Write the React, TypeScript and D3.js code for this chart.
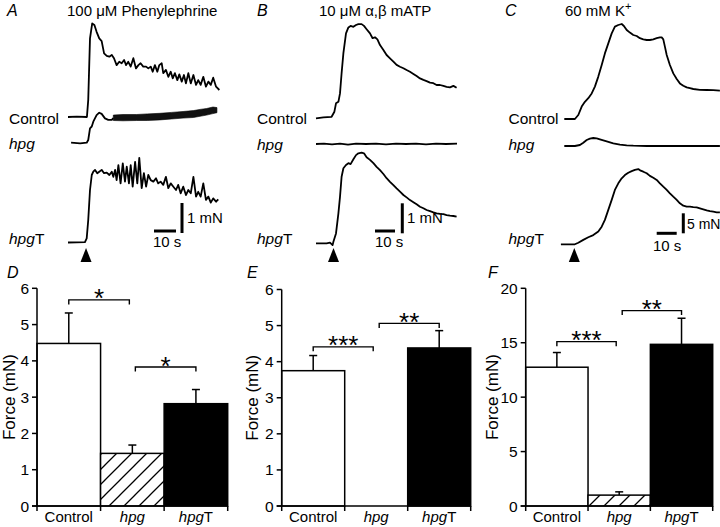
import React from "react";
import * as d3 from "d3";

const FONT = "'Liberation Sans', Arial, Helvetica, sans-serif";

type Pt = [number, number];

// ---------- Trace data: [time (s), force (mN above baseline)] ----------
// A: 100 µM Phenylephrine
const PE_CONTROL: Pt[] = [
  [0, 0], [4, 0.01], [8.6, 0], [9.2, 0.57], [10.0, 2.62], [11.0, 3.12], [12.0, 3.07], [13.0, 2.84],
  [14.2, 2.62], [15.3, 2.53], [16.4, 2.12], [17.6, 2.04], [18.8, 2.01], [19.9, 2.07], [20.9, 1.96],
  [22.1, 1.73], [23.3, 1.84], [24.4, 1.79], [25.5, 1.9], [26.4, 1.73], [27.4, 1.84], [28.5, 1.68],
  [29.7, 1.96], [30.9, 1.62], [32.0, 1.73], [33.0, 1.79], [34.2, 1.68], [35.5, 1.68], [36.5, 1.62],
  [37.6, 1.68], [38.5, 1.51], [39.5, 1.73], [40.6, 1.51], [41.5, 1.73], [42.6, 1.79], [43.3, 1.46],
  [44.5, 1.57], [45.6, 1.34], [46.7, 1.51], [47.6, 1.29], [48.6, 1.46], [49.7, 1.23], [50.6, 1.42],
  [51.7, 1.18], [52.7, 1.4], [53.6, 1.12], [54.7, 1.46], [55.8, 1.12], [57.0, 1.4], [58.2, 1.07],
  [59.2, 1.23], [60.3, 1.07], [61.5, 1.34], [62.7, 1.01], [63.8, 1.18], [64.9, 1.07], [66.0, 1.31],
  [67.3, 1.01], [68.8, 0.9],
];
const PE_HPG: Pt[] = [
  [1.4, 0.01], [5.5, -0.01], [8.5, 0.01], [9.2, 0.1], [10.0, 0.49], [10.8, 0.55], [11.5, 0.71],
  [13.0, 0.93], [14.2, 1.01], [15.3, 0.97], [16.8, 0.82], [18.3, 0.77], [19.9, 0.77], [20.6, 0.83],
];
// noisy part of hpg trace: [time, lower envelope, upper envelope]
const PE_HPG_BAND: [number, number, number][] = [
  [20.6, 0.75, 0.93], [25.0, 0.74, 0.95], [31.2, 0.75, 0.95], [36.0, 0.75, 0.97], [41.8, 0.77, 0.99],
  [47.0, 0.8, 1.02], [52.3, 0.83, 1.05], [57.0, 0.85, 1.08], [60.0, 0.89, 1.12], [63.0, 0.93, 1.15],
  [65.9, 0.98, 1.2], [67.7, 1.01, 1.18],
];
const PE_HPGT: Pt[] = [
  [0, 0], [7.7, 0.01], [8.5, 0.14], [9.2, 0.75], [10.0, 1.75], [10.8, 2.25], [11.5, 2.36], [12.3, 2.42],
  [13.3, 2.31], [14.2, 2.36], [15.3, 2.42], [16.4, 2.31], [17.6, 2.33], [18.8, 2.25], [19.9, 2.36],
  [20.6, 2.19], [21.4, 2.42], [22.1, 2.08], [22.9, 2.58], [23.9, 1.97], [24.9, 2.64], [25.9, 2.03],
  [26.7, 2.53], [27.7, 1.97], [28.5, 2.58], [29.4, 1.86], [30.5, 2.69], [31.5, 1.97], [32.4, 2.82],
  [33.5, 1.81], [34.5, 2.31], [35.5, 1.86], [36.5, 2.25], [37.6, 2.08], [38.8, 2.03], [40.0, 2.14],
  [41.0, 1.97], [42.1, 2.03], [43.3, 1.92], [44.5, 2.19], [45.6, 1.81], [46.7, 1.97], [47.9, 1.86],
  [49.1, 1.75], [50.1, 1.92], [51.2, 1.64], [52.4, 1.86], [53.6, 1.58], [54.7, 1.75], [55.8, 1.64],
  [57.0, 2.19], [58.2, 1.53], [59.2, 1.69], [60.3, 1.53], [61.5, 1.97], [62.7, 1.42], [63.8, 1.53],
  [64.9, 1.33], [66.0, 1.47], [67.3, 1.36], [68.3, 1.44],
];

// B: 10 µM α,β mATP
const ATP_CONTROL: Pt[] = [
  [0, 0], [3.7, 0.03], [7.8, 0.05], [9.2, 0.22], [10.0, 0.5], [11.2, 0.55], [12.0, 0.83], [12.8, 1.5],
  [13.7, 2.17], [15.0, 2.83], [16.2, 3.03], [17.3, 3.08], [18.7, 3.05], [20.0, 3.11], [21.2, 3.14],
  [22.8, 3.14], [24.0, 3.08], [25.3, 2.97], [27.0, 2.83], [28.3, 2.67], [29.5, 2.7], [30.7, 2.63],
  [32.0, 2.44], [33.7, 2.28], [35.3, 2.11], [37.0, 2.0], [38.7, 1.89], [40.3, 1.78], [42.0, 1.72],
  [43.7, 1.67], [45.3, 1.61], [47.0, 1.55], [48.7, 1.48], [50.3, 1.41], [52.0, 1.33], [53.7, 1.28],
  [55.3, 1.24], [57.0, 1.19], [58.7, 1.17], [60.3, 1.11], [62.0, 1.11], [63.7, 1.08], [65.3, 1.05],
  [67.0, 1.03], [68.7, 1.08], [70.3, 1.02],
];
const ATP_HPG: Pt[] = [
  [0, 0], [4, 0.01], [8, -0.01], [12, 0.01], [16, -0.02], [20, 0.01], [25, 0], [30, 0.01], [35, -0.01],
  [40, 0.01], [45, 0], [50, 0.01], [55, -0.01], [60, 0.01], [65, 0], [70.5, 0.01],
];
const ATP_HPGT: Pt[] = [
  [0, 0], [5.3, 0], [7.0, 0.02], [8.3, -0.06], [8.7, 0.05], [10.0, 0.33], [11.2, 1.0], [12.0, 1.55],
  [12.8, 2.22], [13.7, 2.5], [15.0, 2.61], [16.2, 2.67], [17.3, 2.64], [18.7, 2.8], [20.0, 2.94],
  [21.2, 3.0], [22.8, 3.02], [24.0, 3.0], [25.3, 2.87], [27.0, 2.78], [28.7, 2.67], [30.3, 2.55],
  [32.0, 2.44], [33.7, 2.31], [35.3, 2.17], [37.0, 2.05], [38.7, 1.94], [40.3, 1.83], [42.0, 1.72],
  [43.7, 1.61], [45.3, 1.53], [47.0, 1.44], [48.7, 1.37], [50.3, 1.3], [52.0, 1.22], [53.7, 1.17],
  [55.3, 1.11], [57.0, 1.07], [58.7, 1.03], [60.3, 1.0], [62.0, 0.98], [63.7, 0.97], [65.3, 0.94],
  [67.0, 0.92], [68.7, 0.91], [70.3, 0.89],
];

// C: 60 mM K+
const K_CONTROL: Pt[] = [
  [0, 0], [5.3, 0], [7.0, 1.0], [8.7, 3.1], [10.3, 4.3], [12.0, 5.2], [13.7, 6.4], [15.3, 8.1],
  [17.0, 10.6], [18.7, 13.5], [20.3, 16.4], [22.0, 18.9], [23.7, 21.4], [25.3, 23.1], [27.0, 23.5],
  [28.7, 23.75], [29.8, 23.25], [31.2, 22.25], [32.8, 21.6], [34.5, 21.0], [36.2, 20.75], [37.8, 20.2],
  [39.5, 19.9], [41.2, 19.75], [42.8, 19.75], [44.5, 19.9], [46.2, 20.2], [47.8, 20.4], [48.7, 20.4],
  [49.5, 19.9], [50.3, 18.1], [51.2, 16.0], [52.8, 13.5], [54.5, 11.4], [56.2, 10.0], [57.8, 8.9],
  [59.5, 8.3], [61.2, 7.9], [62.8, 7.7], [64.5, 7.5], [67.8, 7.3], [71.2, 7.25], [74.5, 7.2], [77.8, 7.1],
];
const K_HPG: Pt[] = [
  [0, 0], [5.3, 0], [7.8, 0.25], [9.5, 0.83], [11.2, 1.5], [12.8, 1.83], [14.5, 2.0], [16.2, 1.92],
  [17.8, 1.67], [21.2, 1.17], [24.5, 0.67], [27.8, 0.33], [31.2, 0.17], [34.5, 0.08], [41.2, 0],
  [49.5, 0], [57.8, 0], [67.8, 0], [77.8, 0],
];
const K_HPGT: Pt[] = [
  [-1.7, 0], [5.3, 0], [7.0, 0.4], [9.5, 1.1], [12.0, 1.75], [14.5, 2.3], [17.0, 3.2], [18.7, 4.4],
  [20.3, 6.1], [22.0, 8.6], [23.7, 11.1], [25.3, 13.6], [27.0, 15.25], [28.7, 16.5], [30.3, 17.3],
  [32.0, 17.9], [33.7, 18.3], [35.3, 18.6], [37.0, 18.8], [38.2, 18.4], [39.5, 18.15], [41.2, 17.75],
  [42.8, 17.1], [44.5, 16.65], [46.2, 16.1], [47.8, 15.25], [49.5, 14.4], [51.2, 13.6], [52.8, 12.75],
  [54.5, 11.9], [56.2, 11.1], [57.8, 10.25], [59.5, 9.65], [61.2, 9.4], [62.8, 9.4], [64.5, 9.3],
  [66.2, 9.25], [67.8, 9.0], [69.5, 8.75], [71.2, 8.5], [72.8, 8.3], [74.5, 8.15], [76.2, 8.0], [77.8, 8.0],
];

// ---------- Bar data ----------
const CATEGORIES = ["Control", "hpg", "hpgT"];
const PE_MEAN = [4.48, 1.45, 2.82];
const PE_SEM = [0.84, 0.23, 0.39];
const ATP_MEAN = [3.75, 0, 4.38];
const ATP_SEM = [0.42, 0, 0.48];
const K_MEAN = [12.75, 1.0, 14.85];
const K_SEM = [1.35, 0.3, 2.4];
const TICKS_6 = [0, 1, 2, 3, 4, 5, 6];
const TICKS_20 = [0, 5, 10, 15, 20];
// significance: [from category, to category, height (mN), label]
const PE_SIG: [number, number, number, string][] = [[0, 1, 5.68, "*"], [1, 2, 3.83, "*"]];
const ATP_SIG: [number, number, number, string][] = [[0, 1, 4.41, "***"], [1, 2, 5.06, "**"]];
const K_SIG: [number, number, number, string][] = [[0, 1, 15.1, "***"], [1, 2, 17.95, "**"]];

const lineGen = d3.line<Pt>();

function CatLabel({ name, x, y, anchor = "start", size = 15 }: { name: string; x: number; y: number; anchor?: string; size?: number }) {
  if (name === "Control")
    return <text x={x} y={y} textAnchor={anchor} fontSize={size}>Control</text>;
  if (name === "hpg")
    return <text x={x} y={y} textAnchor={anchor} fontSize={size} fontStyle="italic">hpg</text>;
  return (
    <text x={x} y={y} textAnchor={anchor} fontSize={size}>
      <tspan fontStyle="italic">hpg</tspan>T
    </text>
  );
}

interface TraceDef { data: Pt[]; base: number; }

function TracePanel(props: {
  x0: number; pxPerS: number; pxPerMN: number; traces: TraceDef[];
  band?: { data: [number, number, number][]; base: number };
  labelX: number; labels: [string, number][];
  letter: string; letterX: number; title: React.ReactNode; titleX: number;
  arrowT: number; sbH: [number, number]; sbV: [number, number]; sbMN: number;
  mnLabel: string; mnLabelPos: [number, number]; mnSize?: number; sLabelPos: [number, number];
}) {
  const x = d3.scaleLinear().domain([0, 10]).range([props.x0, props.x0 + 10 * props.pxPerS]);
  const mk = (base: number) => d3.scaleLinear().domain([0, 1]).range([base, base - props.pxPerMN]);
  const ax = x(props.arrowT);
  const hLen = x(10) - x(0);
  const vLen = mk(0)(0) - mk(0)(props.sbMN);
  return (
    <g>
      <text x={props.letterX} y={16} fontSize={16} fontStyle="italic">{props.letter}</text>
      <text x={props.titleX} y={16} fontSize={15}>{props.title}</text>
      {props.traces.map((tr, i) => {
        const y = mk(tr.base);
        const d = lineGen.x((p) => x(p[0])).y((p) => y(p[1]))(tr.data) || "";
        return <path key={i} d={d} fill="none" stroke="#000" strokeWidth={1.8} strokeLinejoin="round" />;
      })}
      {props.band && (() => {
        const y = mk(props.band.base);
        const area = d3.area<[number, number, number]>()
          .x((p) => x(p[0])).y0((p) => y(p[1])).y1((p) => y(p[2]));
        return <path d={area(props.band.data) || ""} fill="#111" stroke="#000" strokeWidth={0.6} />;
      })()}
      {props.labels.map(([name, yy], i) => (
        <CatLabel key={i} name={name} x={props.labelX} y={yy} size={15.5} />
      ))}
      <polygon points={`${ax},248 ${ax - 5.5},262 ${ax + 5.5},262`} fill="#000" />
      <line x1={props.sbH[0]} x2={props.sbH[0] + hLen} y1={props.sbH[1]} y2={props.sbH[1]} stroke="#000" strokeWidth={3} />
      <line x1={props.sbV[0]} x2={props.sbV[0]} y1={props.sbV[1]} y2={props.sbV[1] - vLen} stroke="#000" strokeWidth={3} />
      <text x={props.mnLabelPos[0]} y={props.mnLabelPos[1]} fontSize={props.mnSize ?? 15}>{props.mnLabel}</text>
      <text x={props.sLabelPos[0]} y={props.sLabelPos[1]} fontSize={15}>10 s</text>
    </g>
  );
}

function BarPanel(props: {
  x0: number; x1: number; yTop: number; max: number; ticks: number[];
  mean: number[]; sem: number[]; sig: [number, number, number, string][];
  letter: string; letterX: number; ylabelX: number;
}) {
  const y = d3.scaleLinear().domain([0, props.max]).range([506, props.yTop]);
  const x = d3.scaleBand<string>().domain(CATEGORIES).range([props.x0, props.x1]).padding(0);
  const bw = x.bandwidth();
  const c = (i: number) => (x(CATEGORIES[i]) as number) + bw / 2;
  const fills = ["#fff", "url(#hatch)", "#000"];
  const y0 = y(0);
  return (
    <g>
      <text x={props.letterX} y={278} fontSize={16} fontStyle="italic">{props.letter}</text>
      <text transform={`translate(${props.ylabelX},${(y0 + props.yTop) / 2}) rotate(-90)`} textAnchor="middle" fontSize={17}>Force (mN)</text>
      {CATEGORIES.map((cat, i) => {
        const bx = x(cat) as number;
        const top = y(props.mean[i]);
        return (
          <g key={cat}>
            {props.mean[i] > 0 && (
              <>
                <line x1={bx + bw / 2} x2={bx + bw / 2} y1={top} y2={y(props.mean[i] + props.sem[i])} stroke="#000" strokeWidth={1.5} />
                <line x1={bx + bw / 2 - 4} x2={bx + bw / 2 + 4} y1={y(props.mean[i] + props.sem[i])} y2={y(props.mean[i] + props.sem[i])} stroke="#000" strokeWidth={1.5} />
                <rect x={bx} y={top} width={bw} height={y0 - top} fill={fills[i]} stroke="#000" strokeWidth={1.5} />
              </>
            )}
            <CatLabel name={cat} x={bx + bw / 2} y={521.5} anchor="middle" />
          </g>
        );
      })}
      {/* axes */}
      <line x1={props.x0} x2={props.x0} y1={y0} y2={props.yTop} stroke="#000" strokeWidth={1.5} />
      <line x1={props.x0 - 5} x2={props.x1} y1={y0} y2={y0} stroke="#000" strokeWidth={1.5} />
      {props.ticks.map((t) => (
        <g key={t}>
          <line x1={props.x0 - 5} x2={props.x0} y1={y(t)} y2={y(t)} stroke="#000" strokeWidth={1.5} />
          <text x={props.x0 - 8} y={y(t)} dy="0.36em" textAnchor="end" fontSize={15.5}>{t}</text>
        </g>
      ))}
      {[...CATEGORIES.map((cat) => x(cat) as number), props.x1].map((bx, i) => (
        <line key={i} x1={bx} x2={bx} y1={y0} y2={y0 + 5} stroke="#000" strokeWidth={1.5} />
      ))}
      {props.sig.map(([a, b, h, lab], i) => {
        const xa = a === 0 ? c(a) : c(a) + 3;
        const xb = b === 1 ? c(b) - 3 : c(b);
        const yy = y(h);
        return (
          <g key={i}>
            <path d={`M${xa},${yy + 4.5}V${yy}H${xb}V${yy + 4.5}`} fill="none" stroke="#000" strokeWidth={1.4} />
            <text x={(xa + xb) / 2} y={yy + 7.5} textAnchor="middle" fontSize={26}>{lab}</text>
          </g>
        );
      })}
    </g>
  );
}

export default function App() {
  return (
    <svg width={720} height={527} style={{ position: "absolute", left: 0, top: 0, background: "#fff" }} fontFamily={FONT}>
      <defs>
        <pattern id="hatch" patternUnits="userSpaceOnUse" width={15} height={15}>
          <rect width={15} height={15} fill="#fff" />
          <path d="M-3,3L3,-3M0,15L15,0M12,18L18,12" stroke="#000" strokeWidth={1.3} />
        </pattern>
      </defs>
      <rect width={720} height={527} fill="#fff" />
      <TracePanel
        x0={68} pxPerS={2.2} pxPerMN={30}
        traces={[{ data: PE_CONTROL, base: 117 }, { data: PE_HPG, base: 143 }, { data: PE_HPGT, base: 242.5 }]}
        band={{ data: PE_HPG_BAND, base: 143 }}
        labelX={9} labels={[["Control", 123.5], ["hpg", 149], ["hpgT", 244]]}
        letter="A" letterX={7} title={<>100 μM Phenylephrine</>} titleX={67}
        arrowT={8.2} sbH={[154, 231]} sbV={[182, 233]} sbMN={1}
        mnLabel="1 mN" mnLabelPos={[187, 223]} sLabelPos={[153, 247]}
      />
      <TracePanel
        x0={316} pxPerS={2.0} pxPerMN={30}
        traces={[{ data: ATP_CONTROL, base: 118.3 }, { data: ATP_HPG, base: 144 }, { data: ATP_HPGT, base: 243.3 }]}
        labelX={257} labels={[["Control", 124], ["hpg", 150], ["hpgT", 244]]}
        letter="B" letterX={257} title={<>10 μM α,β mATP</>} titleX={319}
        arrowT={8.75} sbH={[375, 231]} sbV={[402.3, 233.3]} sbMN={1}
        mnLabel="1 mN" mnLabelPos={[407, 223]} sLabelPos={[375, 247]}
      />
      <TracePanel
        x0={564.3} pxPerS={2.0} pxPerMN={4}
        traces={[{ data: K_CONTROL, base: 119 }, { data: K_HPG, base: 146 }, { data: K_HPGT, base: 244.3 }]}
        labelX={508.5} labels={[["Control", 124], ["hpg", 150], ["hpgT", 244]]}
        letter="C" letterX={505} title={<>60 mM K<tspan dy={-6} fontSize={11}>+</tspan></>} titleX={565}
        arrowT={5.0} sbH={[656.7, 233.3]} sbV={[683.3, 233.3]} sbMN={5}
        mnLabel="5 mN" mnLabelPos={[687, 229]} mnSize={14} sLabelPos={[653, 251]}
      />
      <BarPanel x0={37} x1={227.7} yTop={288.3} max={6} ticks={TICKS_6} mean={PE_MEAN} sem={PE_SEM} sig={PE_SIG} letter="D" letterX={7} ylabelX={15} />
      <BarPanel x0={281.7} x1={470.7} yTop={289.5} max={6} ticks={TICKS_6} mean={ATP_MEAN} sem={ATP_SEM} sig={ATP_SIG} letter="E" letterX={247} ylabelX={258} />
      <BarPanel x0={525.7} x1={712.7} yTop={288.3} max={20} ticks={TICKS_20} mean={K_MEAN} sem={K_SEM} sig={K_SIG} letter="F" letterX={488} ylabelX={498} />
    </svg>
  );
}
